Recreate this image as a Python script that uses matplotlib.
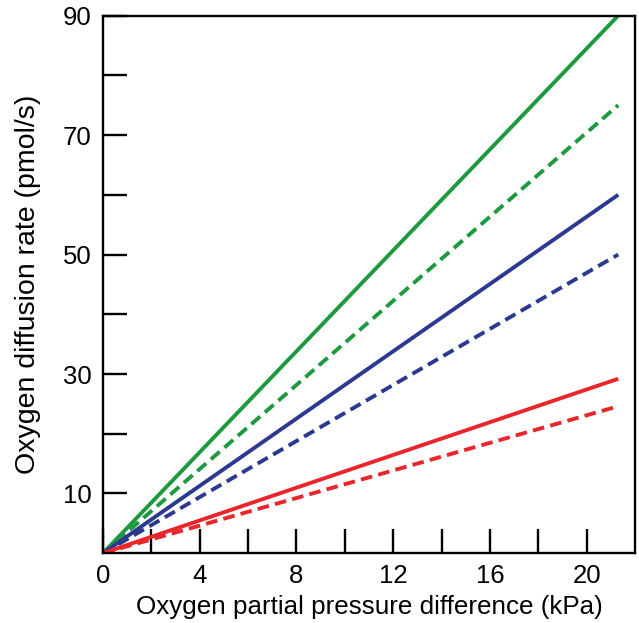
import matplotlib.pyplot as plt
from matplotlib.ticker import FixedLocator

plt.rcParams['font.family'] = ['Liberation Sans', 'DejaVu Sans']

# line endpoints (pressure difference kPa, rate pmol/s)
x_end = [0, 21.3]
green_solid = [0, 90]
green_dashed = [0, 75]
blue_solid = [0, 60]
blue_dashed = [0, 50]
red_solid = [0, 29.2]
red_dashed = [0, 24.6]

x_major = [0, 4, 8, 12, 16, 20]
x_minor = [2, 6, 10, 14, 18]
y_major = [10, 30, 50, 70, 90]
y_minor = [20, 40, 60, 80]

green = '#1e9a3e'
blue = '#2b3990'
red = '#e8262b'

fig = plt.figure(figsize=(6.39, 6.23), dpi=100)
ax = fig.add_axes([0.161, 0.112, 0.833, 0.863])

lw = 2.8
dash = (0, (3.0, 1.6))
ax.plot(x_end, green_solid, color=green, lw=lw, solid_capstyle='butt')
ax.plot(x_end, green_dashed, color=green, lw=lw, ls=dash)
ax.plot(x_end, blue_solid, color=blue, lw=lw, solid_capstyle='butt')
ax.plot(x_end, blue_dashed, color=blue, lw=lw, ls=dash)
ax.plot(x_end, red_solid, color=red, lw=lw, solid_capstyle='butt')
ax.plot(x_end, red_dashed, color=red, lw=lw, ls=dash)

ax.set_xlim(0, 22)
ax.set_ylim(0, 90)

ax.xaxis.set_major_locator(FixedLocator(x_major))
ax.xaxis.set_minor_locator(FixedLocator(x_minor))
ax.yaxis.set_major_locator(FixedLocator(y_major))
ax.yaxis.set_minor_locator(FixedLocator(y_minor))

ax.tick_params(which='both', direction='in', length=17, width=1.7,
               top=False, right=False, labelsize=18.5, pad=8)

for s in ax.spines.values():
    s.set_linewidth(1.7)

ax.set_xlabel('Oxygen partial pressure difference (kPa)', fontsize=18.7, labelpad=5)
ax.set_ylabel('Oxygen diffusion rate (pmol/s)', fontsize=20.5, labelpad=16)

fig.savefig('out.png', dpi=100)
